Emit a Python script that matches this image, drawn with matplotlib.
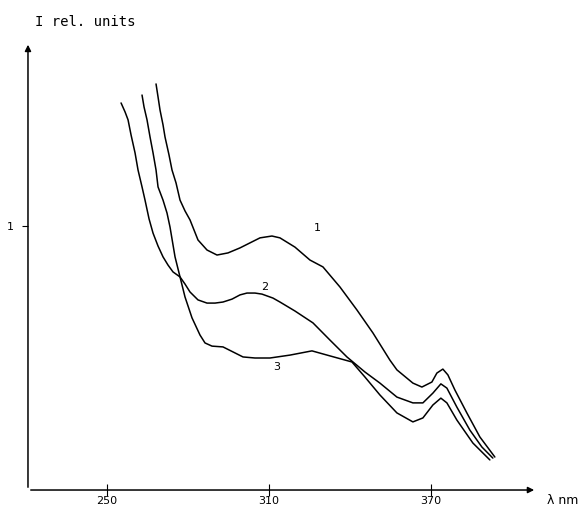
import matplotlib.pyplot as plt
import numpy as np

# wavelength (nm) and intensity (rel. units)
wl_1 = [268.15, 268.89, 269.63, 270.74, 271.48, 272.96, 274.07, 275.56, 277.04, 278.89,
        280.74, 283.70, 287.04, 290.74, 294.81, 299.26, 302.96, 306.67, 311.11, 314.07,
        319.63, 325.19, 330.00, 336.30, 342.59, 348.52, 354.81, 357.41, 363.33, 366.67,
        370.37, 372.22, 374.44, 376.30, 378.89, 383.33, 388.15, 393.70]
i_1 = [1.538, 1.489, 1.439, 1.383, 1.337, 1.269, 1.212, 1.163, 1.098, 1.057,
       1.023, 0.947, 0.909, 0.890, 0.898, 0.917, 0.936, 0.955, 0.962, 0.955,
       0.920, 0.871, 0.845, 0.769, 0.682, 0.595, 0.492, 0.455, 0.405, 0.390,
       0.409, 0.443, 0.458, 0.436, 0.379, 0.292, 0.201, 0.125]

wl_2 = [255.19, 256.67, 257.78, 258.89, 260.37, 261.48, 262.96, 264.07, 265.56, 267.04,
        268.89, 270.74, 272.59, 274.44, 277.04, 278.89, 280.74, 283.70, 287.04, 290.00,
        292.96, 296.30, 299.26, 301.85, 304.81, 307.41, 311.48, 314.07, 319.63, 326.30,
        332.59, 338.89, 345.56, 351.11, 357.41, 363.33, 367.04, 370.74, 373.70, 375.93,
        379.63, 384.44, 388.89, 392.96]
i_2 = [1.466, 1.432, 1.402, 1.345, 1.277, 1.212, 1.148, 1.098, 1.027, 0.973,
       0.924, 0.883, 0.852, 0.826, 0.807, 0.780, 0.750, 0.720, 0.708, 0.708,
       0.712, 0.723, 0.739, 0.746, 0.746, 0.742, 0.727, 0.712, 0.678, 0.633,
       0.568, 0.504, 0.447, 0.405, 0.352, 0.330, 0.330, 0.367, 0.402, 0.386,
       0.314, 0.227, 0.163, 0.121]

wl_3 = [262.96, 263.70, 264.81, 265.93, 267.04, 268.15, 268.89, 270.74, 272.22, 273.33,
        275.19, 277.04, 278.89, 281.48, 284.44, 286.30, 288.89, 292.96, 296.67, 300.37,
        304.81, 310.37, 317.78, 325.93, 332.59, 340.74, 345.56, 351.11, 357.41, 363.33,
        367.04, 370.74, 373.70, 375.93, 379.63, 385.56, 391.85]
i_3 = [1.496, 1.451, 1.402, 1.337, 1.277, 1.212, 1.148, 1.098, 1.049, 0.996,
       0.883, 0.807, 0.731, 0.652, 0.587, 0.557, 0.545, 0.542, 0.523, 0.504,
       0.500, 0.500, 0.511, 0.527, 0.508, 0.485, 0.428, 0.360, 0.292, 0.258,
       0.273, 0.322, 0.348, 0.330, 0.265, 0.178, 0.114]

curve_labels = ['1', '2', '3']
label_pos = [(328.1, 0.992), (308.5, 0.769), (313.0, 0.466)]

x_ticks = [250, 310, 370]
y_ticks = [1]

fig = plt.figure(figsize=(5.83, 5.08), dpi=100)
ax = fig.add_axes([0.048, 0.0354, 0.873, 0.882])

for wl, inten in [(wl_1, i_1), (wl_2, i_2), (wl_3, i_3)]:
    ax.plot(wl, inten, color='black', linewidth=1.1,
            solid_joinstyle='round', solid_capstyle='round')

for lab, (lx, ly) in zip(curve_labels, label_pos):
    ax.text(lx, ly, lab, fontsize=8, ha='center', va='center')

ax.set_xlim(220.7, 409.3)
ax.set_ylim(0, 1.697)

ax.spines['right'].set_color('none')
ax.spines['top'].set_color('none')
ax.spines['left'].set_color('none')
ax.spines['bottom'].set_color('none')

#axes with arrows
ax.annotate('', xy=(1, 0), xytext=(0, 0), xycoords='axes fraction',
            arrowprops=dict(arrowstyle='-|>', color='black', lw=1.1, mutation_scale=9))
ax.annotate('', xy=(0, 1), xytext=(0, 0), xycoords='axes fraction',
            arrowprops=dict(arrowstyle='-|>', color='black', lw=1.1, mutation_scale=9))

ax.set_xticks(x_ticks)
ax.set_xticklabels([str(t) for t in x_ticks], fontsize=8)
ax.tick_params(axis='x', direction='inout', length=8, pad=0.5)
ax.set_yticks(y_ticks)
ax.set_yticklabels([str(t) for t in y_ticks], fontsize=8)
ax.tick_params(axis='y', direction='out', length=4, pad=6)

fig.text(35 / 583, 1 - 22 / 508, 'I rel. units', fontsize=10, family='DejaVu Sans Mono',
         ha='left', va='center')
fig.text(547 / 583, 1 - 501 / 508, 'λ nm', fontsize=9, ha='left', va='center')

plt.savefig('out.png', dpi=100)
